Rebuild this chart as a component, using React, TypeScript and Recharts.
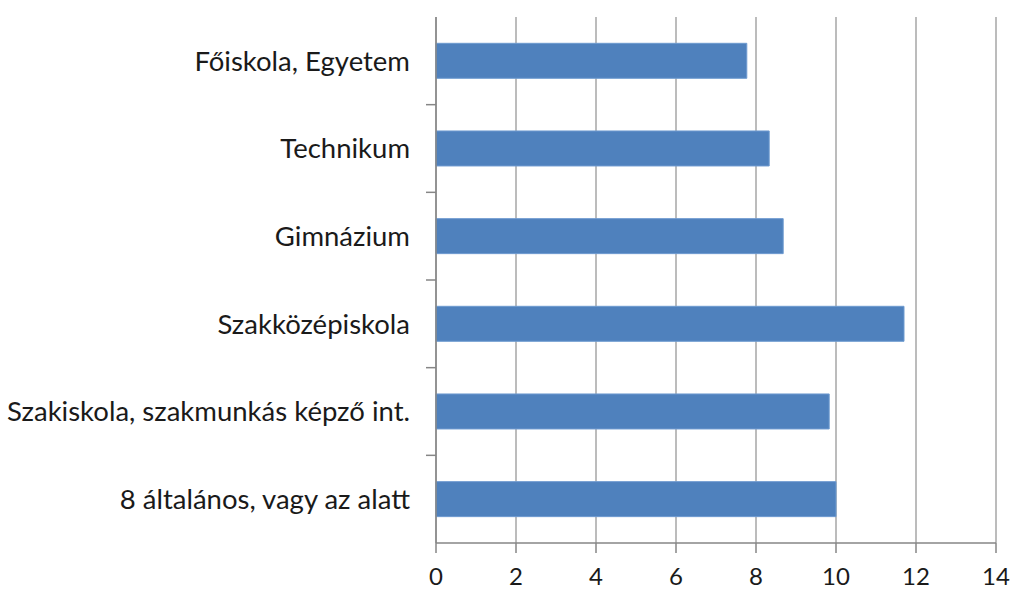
import { BarChart, Bar, XAxis, YAxis, CartesianGrid } from 'recharts'

// Végzettség szerinti megoszlás, vízszintes oszlopokkal

const kategoriak = [
  'Főiskola, Egyetem',
  'Technikum',
  'Gimnázium',
  'Szakközépiskola',
  'Szakiskola, szakmunkás képző int.',
  '8 általános, vagy az alatt',
]
const ertekek = [7.77, 8.33, 8.68, 11.7, 9.83, 10.0]
const xTicks = [0, 2, 4, 6, 8, 10, 12, 14]

const KEK = '#4f81bd'
const RACS = '#a6a6a6'
const TENGELY = '#868686'
const FONT = 'Lato, "Open Sans", sans-serif'

const data = kategoriak.map((nev, i) => ({ nev, ertek: ertekek[i] }))

// felirat + osztásjel a kategóriák határán (Excel-szerűen)
function KategoriaTick({ x, y, payload, index }: any) {
  const fel = payload?.offset ?? 0
  const tengelyX = x + 26
  return (
    <g>
      {index > 0 && fel > 0 && (
        <line
          x1={tengelyX - 10}
          x2={tengelyX}
          y1={y - fel}
          y2={y - fel}
          stroke={TENGELY}
          strokeWidth={1.5}
        />
      )}
      <text
        x={x}
        y={y}
        dy="0.355em"
        textAnchor="end"
        fontSize={27.5}
        fill="#1a1a1a"
        fontFamily={FONT}
      >
        {payload.value}
      </text>
    </g>
  )
}

export default function App() {
  return (
    <div style={{ position: 'absolute', left: 0, top: 0, background: '#fff' }}>
      <BarChart
        width={1013}
        height={592}
        data={data}
        layout="vertical"
        margin={{ top: 17, right: 17, left: 0, bottom: 0 }}
        barCategoryGap="30%"
      >
        <CartesianGrid horizontal={false} stroke={RACS} strokeWidth={1.5} />
        <XAxis
          type="number"
          domain={[0, 14]}
          ticks={xTicks}
          interval={0}
          height={49}
          tickSize={10}
          tickMargin={15}
          axisLine={{ stroke: TENGELY, strokeWidth: 1.5 }}
          tickLine={{ stroke: TENGELY, strokeWidth: 1.5 }}
          tick={{ fontSize: 24, fill: '#1a1a1a', fontFamily: FONT }}
        />
        <YAxis
          type="category"
          dataKey="nev"
          width={436}
          tickSize={0}
          tickMargin={26}
          interval={0}
          axisLine={{ stroke: TENGELY, strokeWidth: 1.5 }}
          tickLine={false}
          tick={<KategoriaTick />}
        />
        <Bar dataKey="ertek" fill={KEK} stroke="#6f9bd0" strokeWidth={1} isAnimationActive={false} />
      </BarChart>
    </div>
  )
}
